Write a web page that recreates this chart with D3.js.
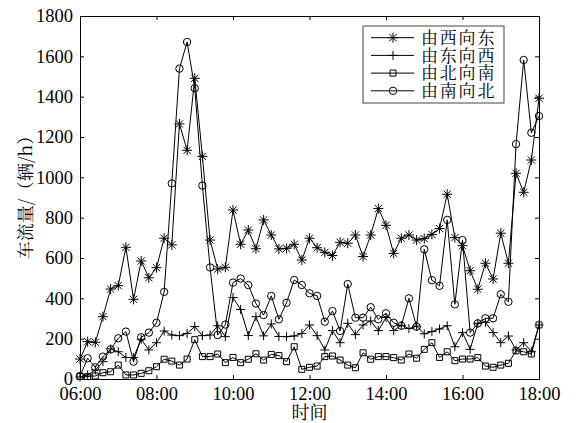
<!DOCTYPE html>
<html>
<head>
<meta charset="utf-8">
<script src="https://cdn.jsdelivr.net/npm/d3@7"></script>
<style>
  html, body { margin: 0; padding: 0; background: #fff; }
  svg { display: block; }
  svg text { fill: #000; }
  svg text.num { font-family: "Liberation Serif", serif; font-size: 18.5px; }
  svg text.cjk { font-family: "Noto Serif CJK SC", "Noto Sans CJK SC", serif; }
  svg text.ylabel { opacity: 0.999; text-rendering: geometricPrecision; }
</style>
</head>
<body>
<svg id="chart" width="578" height="423"></svg>
<script>
// Sampling instants (12-minute intervals from 06:00 to 18:00)
const times = [
  "06:00","06:12","06:24","06:36","06:48","07:00","07:12","07:24","07:36","07:48",
  "08:00","08:12","08:24","08:36","08:48","09:00","09:12","09:24","09:36","09:48",
  "10:00","10:12","10:24","10:36","10:48","11:00","11:12","11:24","11:36","11:48",
  "12:00","12:12","12:24","12:36","12:48","13:00","13:12","13:24","13:36","13:48",
  "14:00","14:12","14:24","14:36","14:48","15:00","15:12","15:24","15:36","15:48",
  "16:00","16:12","16:24","16:36","16:48","17:00","17:12","17:24","17:36","17:48",
  "18:00"
];

// Traffic flow (vehicles/h) per direction
const westToEast = [
  99,185,182,309,446,463,653,395,585,502,
  552,698,665,1265,1134,1491,1104,689,545,554,
  838,668,739,646,789,714,645,648,668,590,
  698,651,628,612,678,673,714,607,714,845,
  762,623,698,714,689,696,717,746,916,701,
  661,537,445,574,496,723,574,1020,926,1086,
  1392
];
const eastToWest = [
  10,20,45,86,149,135,107,106,197,144,
  180,238,218,215,226,260,215,218,264,210,
  404,345,216,309,214,273,211,210,213,226,
  268,215,144,240,180,276,220,268,288,240,
  305,240,266,250,262,224,235,248,264,160,
  230,147,276,281,230,180,213,144,180,135,
  268
];
const northToSouth = [
  12,12,15,31,36,69,20,20,28,41,
  61,98,89,69,99,195,111,111,124,81,
  107,81,98,125,94,122,116,86,160,48,
  58,64,111,114,94,69,56,130,98,111,
  111,106,94,124,103,147,180,107,135,91,
  99,99,106,64,58,69,78,140,135,124,
  268
];
const southToNorth = [
  15,103,58,111,147,202,235,86,207,230,
  279,432,970,1539,1671,1442,959,553,218,270,
  478,498,466,374,317,412,296,378,491,466,
  425,412,284,337,238,471,304,304,356,296,
  326,279,264,400,259,643,490,462,789,370,
  689,230,276,301,301,420,383,1165,1582,1221,
  1304
];

const seriesNames = ["由西向东", "由东向西", "由北向南", "由南向北"];
const seriesValues = [westToEast, eastToWest, northToSouth, southToNorth];
const seriesMarkers = ["asterisk", "plus", "square", "circle"];

const xTickLabels = ["06:00", "08:00", "10:00", "12:00", "14:00", "16:00", "18:00"];
const yTicks = [0, 200, 400, 600, 800, 1000, 1200, 1400, 1600, 1800];

const toMinutes = s => { const [h, m] = s.split(":").map(Number); return h * 60 + m; };

const svg = d3.select("#chart");
const margin = { left: 80, right: 39, top: 16, bottom: 44 };
const W = 578, H = 423;
const plotW = W - margin.left - margin.right;
const plotH = H - margin.top - margin.bottom;

const x = d3.scaleLinear()
  .domain([toMinutes(xTickLabels[0]), toMinutes(xTickLabels[xTickLabels.length - 1])])
  .range([margin.left, margin.left + plotW]);
const y = d3.scaleLinear()
  .domain([0, 1800])
  .range([margin.top + plotH, margin.top]);

svg.append("rect").attr("width", W).attr("height", H).attr("fill", "#fff");

// Marker path builders
function markerPath(type, cx, cy) {
  const p = d3.path();
  if (type === "asterisk") {
    const r = 5, d = r * 0.72;
    p.moveTo(cx - r, cy); p.lineTo(cx + r, cy);
    p.moveTo(cx, cy - r); p.lineTo(cx, cy + r);
    p.moveTo(cx - d, cy - d); p.lineTo(cx + d, cy + d);
    p.moveTo(cx - d, cy + d); p.lineTo(cx + d, cy - d);
  } else if (type === "plus") {
    const r = 4.5;
    p.moveTo(cx - r, cy); p.lineTo(cx + r, cy);
    p.moveTo(cx, cy - r); p.lineTo(cx, cy + r);
  } else if (type === "square") {
    const h = 3;
    p.rect(cx - h, cy - h, 2 * h, 2 * h);
  } else {
    const r = 3.7;
    p.moveTo(cx + r, cy);
    p.arc(cx, cy, r, 0, 2 * Math.PI);
  }
  return p.toString();
}

const tx = times.map(toMinutes);
const line = d3.line().x((d, i) => x(tx[i])).y(d => y(d));

const plot = svg.append("g");
seriesValues.forEach((vals, k) => {
  const g = plot.append("g");
  g.append("path")
    .attr("d", line(vals))
    .attr("fill", "none")
    .attr("stroke", "#000")
    .attr("stroke-width", 1);
  g.selectAll("path.mk")
    .data(vals)
    .join("path")
    .attr("class", "mk")
    .attr("d", (d, i) => markerPath(seriesMarkers[k], x(tx[i]), y(d)))
    .attr("fill", "none")
    .attr("stroke", "#000")
    .attr("stroke-width", 1);
});

// Axes (ticks point inward on all four sides)
const xTickVals = xTickLabels.map(toMinutes);

const xAxis = svg.append("g")
  .attr("transform", `translate(0,${margin.top + plotH})`)
  .call(d3.axisBottom(x).tickValues(xTickVals)
    .tickFormat((d, i) => xTickLabels[i])
    .tickSizeInner(-4).tickSizeOuter(0).tickPadding(8));
const yAxis = svg.append("g")
  .attr("transform", `translate(${margin.left},0)`)
  .call(d3.axisLeft(y).tickValues(yTicks).tickFormat(d3.format("d"))
    .tickSizeInner(-4).tickSizeOuter(0).tickPadding(7));
const topAxis = svg.append("g")
  .attr("transform", `translate(0,${margin.top})`)
  .call(d3.axisTop(x).tickValues(xTickVals).tickFormat("")
    .tickSizeInner(-4).tickSizeOuter(0));
const rightAxis = svg.append("g")
  .attr("transform", `translate(${margin.left + plotW},0)`)
  .call(d3.axisRight(y).tickValues(yTicks).tickFormat("")
    .tickSizeInner(-4).tickSizeOuter(0));

[xAxis, yAxis, topAxis, rightAxis].forEach(a => {
  a.attr("font-family", null).attr("font-size", null);
  a.select(".domain").attr("stroke", "#000").attr("stroke-width", 1);
  a.selectAll(".tick line").attr("stroke", "#000");
  a.selectAll("text")
    .attr("class", "num")
    .attr("fill", "#000");
});

// Axis titles
svg.append("text")
  .attr("class", "cjk")
  .attr("x", margin.left + plotW / 2)
  .attr("y", 419)
  .attr("text-anchor", "middle")
  .attr("font-size", 18)
  .text("时间");
svg.append("text")
  .attr("class", "cjk ylabel")
  .attr("transform", `translate(32,${193}) rotate(-90)`)
  .attr("text-anchor", "middle")
  .attr("font-size", 18)
  .attr("fill", "#000")
  .text("车流量/（辆/h）");

// Legend
const legend = svg.append("g").attr("transform", "translate(363,26)");
legend.append("rect")
  .attr("width", 141).attr("height", 77)
  .attr("fill", "#fff")
  .attr("stroke", "#444").attr("stroke-width", 1);
seriesNames.forEach((name, k) => {
  const cy = 11.7 + k * 17.7;
  legend.append("line")
    .attr("x1", 8).attr("x2", 51).attr("y1", cy).attr("y2", cy)
    .attr("stroke", "#000");
  legend.append("path")
    .attr("d", markerPath(seriesMarkers[k], 30, cy))
    .attr("fill", "none").attr("stroke", "#000");
  legend.append("text")
    .attr("class", "cjk")
    .attr("x", 58).attr("y", cy)
    .attr("dy", "0.36em")
    .attr("font-size", 17)
    .attr("letter-spacing", 1.8)
    .text(name);
});
</script>
</body>
</html>
